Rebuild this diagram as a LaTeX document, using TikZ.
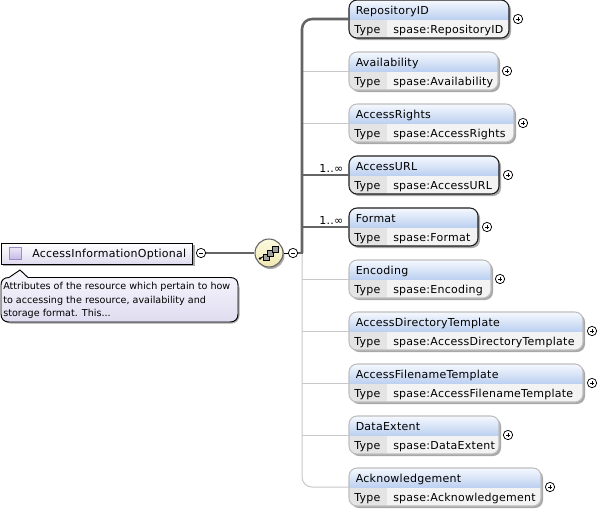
\documentclass[tikz,border=0pt]{standalone}
\usepackage{fontspec}
\setmainfont{DejaVu Sans}[LetterSpace=2.3]
\newfontfamily\cmtfont{DejaVu Sans}
\usetikzlibrary{calc}
\definecolor{darkb}{HTML}{1E1E1E}
\definecolor{lightb}{HTML}{BEBEBE}
\definecolor{shad}{HTML}{A8A8A8}
\definecolor{conn}{HTML}{646464}
\definecolor{thinc}{HTML}{C8C8C8}
\definecolor{hdtop}{HTML}{F6F9FE}
\definecolor{hdbot}{HTML}{BDD1F1}
\definecolor{cellA}{HTML}{E4E4E4}
\definecolor{cellB}{HTML}{F3F3F3}
\definecolor{lavtop}{HTML}{F8F7FD}
\definecolor{lavbot}{HTML}{E0DCF0}
\definecolor{icoA}{HTML}{EDE9F9}
\definecolor{icoB}{HTML}{C4B8E4}
\definecolor{icoC}{HTML}{9C8CC8}
\definecolor{compA}{HTML}{FCFAE0}
\definecolor{compB}{HTML}{F0E8B0}
\definecolor{sq}{HTML}{A0A0A0}
\newcommand{\fs}{\fontsize{8.25}{10}\selectfont}
\tikzset{
  x=0.75pt,y=-0.75pt,
  elemshape/.style n args={1}{rectangle,rounded corners=6pt,minimum height=28.5pt,minimum width=#1*0.75pt,anchor=north west,inner sep=0pt,outer sep=0pt,
    path picture={
      \fill[cellB,sharp corners] (path picture bounding box.south west) rectangle (path picture bounding box.north east);
      \fill[cellA,sharp corners] (path picture bounding box.south west) rectangle ($(path picture bounding box.west)+(38,0)$);
      \shade[sharp corners,top color=hdtop,bottom color=hdbot] (path picture bounding box.north west) rectangle (path picture bounding box.east);
    }},
  lbl/.style={font=\fs,text=black,inner sep=0pt,anchor=base west},
  plus/.style={circle,draw=black,fill=white,line width=.55pt,minimum size=7pt,inner sep=0pt},
  thickconn/.style={draw=conn,line width=1.9pt},
  thinconn/.style={draw=thinc,line width=.75pt},
}
\newcommand{\elem}[6]{% name, top y, width, border, title, type
  \path[fill=shad,rounded corners=6pt] (349+2,#2+2) rectangle ++(#3,38);
  \node[elemshape={#3},draw=#4,line width=.8pt] (#1) at (349,#2) {};
  \node[lbl] (#1t) at (355.5,#2+14.5) {#5};
  \node[lbl] (#1a) at (354,#2+33.5) {Type};
  \node[lbl] (#1b) at (393,#2+33.5) {#6};
  \node[plus] (#1p) at (349+#3+9,#2+19) {};
  \draw[line width=.55pt] (#1p.center) +(-2,0) -- +(2,0) (#1p.center) +(0,-2) -- +(0,2);
}
\begin{document}
\begin{tikzpicture}
\useasboundingbox (0,0) rectangle (599,512);
\fill[white] (0,0) rectangle (599,512);
% main element
\path[fill=shad] (3,245) rectangle (195,266);
\node[rectangle,draw=black,line width=.7pt,minimum width=143.25pt,minimum height=15.75pt,anchor=north west,inner sep=0pt,outer sep=0pt,top color=white,bottom color=lavbot] (main) at (1,243) {};
\node[rectangle,draw=icoC,line width=.7pt,minimum size=9.5pt,inner sep=0pt,top color=icoA,bottom color=icoB] (icon) at (15.5,253.5) {};
\node[lbl] (maint) at (32,257.5) {AccessInformationOptional};
\node[plus] (m1) at (201,253) {};
\draw[line width=.55pt] (m1.center) +(-2,0) -- +(2,0);
% comment
\path[fill=shad,rounded corners=6pt] (2.5,280) rectangle (239.5,323.5);
\draw[draw=black,line width=.7pt,top color=lavtop,bottom color=lavbot]
  (1,285) .. controls (1,280) and (4,277.5) .. (9,277.5) -- (20,270) -- (28,277.5) -- (230,277.5)
  .. controls (235,277.5) and (238,280) .. (238,285) -- (238,314)
  .. controls (238,319) and (235,322) .. (230,322) -- (9,322)
  .. controls (4,322) and (1,319) .. (1,314) -- cycle;
\node[font=\cmtfont\fontsize{7.2}{10.1}\selectfont,inner sep=0pt,anchor=north west,align=left] (cmt) at (3,282) {Attributes of the resource which pertain to how\\to accessing the resource, availability and\\storage format. This...};
% compositor
\path[fill=shad] (270.5,255) circle[radius=14];
\node[circle,draw=conn,line width=.8pt,minimum size=21pt,inner sep=0pt,top color=compA,bottom color=compB] (comp) at (269,253) {};
\draw[line width=.7pt] (260,258.5) -- (278,248);
\fill (260,258.5) circle[radius=1.3] (278,248) circle[radius=1.3];
\foreach \p/\q in {266/257.5,270.5/253,275/249}{\draw[fill=sq,draw=black,line width=.5pt] (\p-3,\q-3) rectangle (\p+3,\q+3);}
\node[plus] (m2) at (293,253) {};
\draw[line width=.55pt] (m2.center) +(-2,0) -- +(2,0);
\draw[thickconn] (m1.east) -- (comp.west);
\draw[line width=.6pt,draw=black] (comp.east) -- (m2.west);
\coordinate (bus) at (302,253);
% elements
\elem{a}{0}{160}{darkb}{RepositoryID}{spase:RepositoryID}
\elem{b}{52}{149}{lightb}{Availability}{spase:Availability}
\elem{c}{104}{165}{lightb}{AccessRights}{spase:AccessRights}
\elem{d}{156}{150}{darkb}{AccessURL}{spase:AccessURL}
\elem{e}{208}{129}{darkb}{Format}{spase:Format}
\elem{f}{260}{142}{lightb}{Encoding}{spase:Encoding}
\elem{g}{312}{234}{lightb}{AccessDirectoryTemplate}{spase:AccessDirectoryTemplate}
\elem{h}{364}{234}{lightb}{AccessFilenameTemplate}{spase:AccessFilenameTemplate}
\elem{i}{416}{150}{lightb}{DataExtent}{spase:DataExtent}
\elem{j}{468}{192}{lightb}{Acknowledgement}{spase:Acknowledgement}
% connectors
\draw[thinconn,rounded corners=7.5pt] (bus) -- (bus |- j.west) -- (j.west);
\draw[thinconn] (b.west) -- (bus |- b.west);
\draw[thinconn] (c.west) -- (bus |- c.west);
\draw[thinconn] (f.west) -- (bus |- f.west);
\draw[thinconn] (g.west) -- (bus |- g.west);
\draw[thinconn] (h.west) -- (bus |- h.west);
\draw[thinconn] (i.west) -- (bus |- i.west);
\draw[thickconn,rounded corners=7.5pt] (a.west) -| (bus);
\draw[thickconn] (d.west) -- (bus |- d.west);
\draw[thickconn] (e.west) -- (bus |- e.west);
\draw[line width=.9pt,draw=conn] (m2.east) -- ([xshift=.75pt]bus);
\node[lbl] (md) at (319,172) {1..∞};
\node[lbl] (me) at (319,224) {1..∞};
\end{tikzpicture}
\end{document}
